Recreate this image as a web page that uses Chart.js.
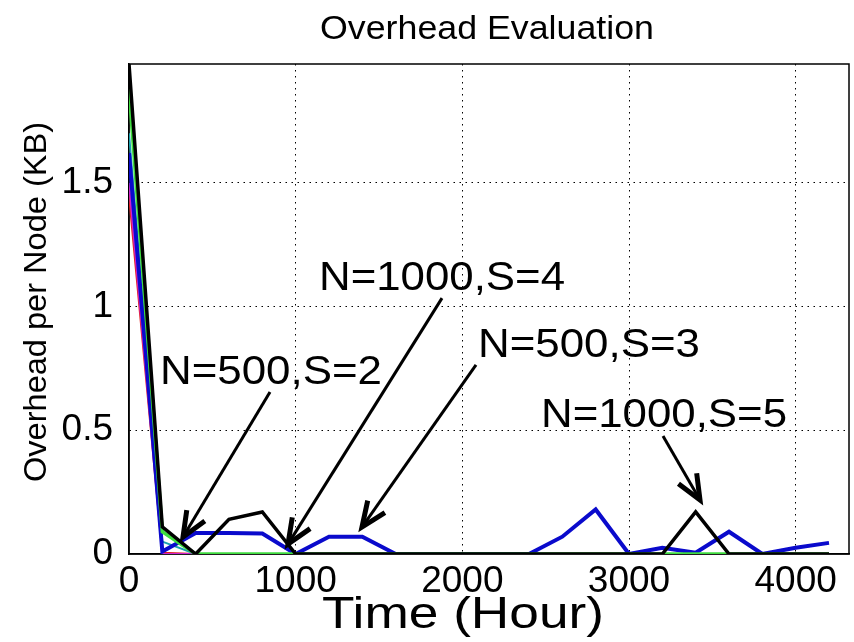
<!DOCTYPE html>
<html>
<head>
<meta charset="utf-8">
<title>Overhead Evaluation</title>
<script src="https://cdn.jsdelivr.net/npm/chart.js@4.4.1/dist/chart.umd.min.js"></script>
<style>
    html, body { margin: 0; padding: 0; background: #ffffff; }
    #chartBox { width: 854px; height: 642px; position: relative; }
</style>
</head>
<body>
<div id="chartBox"><canvas id="overheadChart"></canvas></div>
<script>
// time axis (hours), one sample every 200 h
const hours = [0, 200, 400, 600, 800, 1000, 1200, 1400, 1600, 1800, 2000, 2200,
               2400, 2600, 2800, 3000, 3200, 3400, 3600, 3800, 4000, 4200];

// overhead per node (KB)
const blackSeries   = [1.98, 0.11, 0, 0.14, 0.17, 0, 0, 0, 0, 0, 0, 0,
                       0, 0, 0, 0, 0, 0.17, 0, 0, 0, 0];
const greenSeries   = [1.88, 0.09, 0, 0, 0, 0, 0, 0, 0, 0, 0, 0,
                       0, 0, 0, 0, 0, 0, 0, 0, 0, 0];
const blueSeries    = [1.62, 0.01, 0.085, 0.085, 0.083, 0, 0.07, 0.07, 0, 0, 0, 0,
                       0, 0.07, 0.18, 0, 0.025, 0.005, 0.09, 0, 0.025, 0.045];
const cyanSeries    = [1.70, 0.05, 0, 0, 0, 0, 0, 0, 0, 0, 0, 0,
                       0, 0, 0, 0, 0, 0, 0, 0, 0, 0];
const magentaSeries = [1.50, 0, 0, 0, 0, 0, 0, 0, 0, 0, 0, 0,
                       0, 0, 0, 0, 0, 0, 0, 0, 0, 0];
const redSeries     = [1.45, 0.005, 0, 0, 0, 0, 0, 0, 0, 0, 0, 0,
                       0, 0, 0, 0, 0, 0, 0, 0, 0, 0];

const xTicks = [0, 1000, 2000, 3000, 4000];
const yTicks = [0, 0.5, 1, 1.5];

// arrow annotations: label, text anchor (data units), arrow start -> tip (data units)
const noteLabels = ['N=500,S=2', 'N=1000,S=4', 'N=500,S=3', 'N=1000,S=5'];
const noteText   = [[186, 0.687], [1140, 1.067], [2094, 0.796], [2472, 0.513]];
const noteFrom   = [[846, 0.655], [1878, 1.034], [2082, 0.764], [3204, 0.477]];
const noteTo     = [[324, 0.069], [954, 0.040], [1398, 0.109], [3426, 0.218]];
const noteWidth  = [222, 246, 222, 246];

const FONT = '"Liberation Sans", Arial, Helvetica, sans-serif';

function toPoints(values) {
    return values.map((v, i) => ({ x: hours[i], y: v }));
}

// draws text fitted to a measured width (the figure's text is a little wide)
function drawStretchedText(ctx, text, x, y, width, size, align, vertical) {
    ctx.save();
    ctx.font = size + 'px ' + FONT;
    const w = ctx.measureText(text).width;
    ctx.translate(x, y);
    if (vertical) ctx.rotate(-Math.PI / 2);
    ctx.scale(width / w, 1);
    ctx.textAlign = align;
    ctx.textBaseline = 'alphabetic';
    ctx.fillStyle = '#000';
    ctx.fillText(text, 0, 0);
    ctx.restore();
}

function drawArrow(ctx, x1, y1, x2, y2) {
    const ang = Math.atan2(y2 - y1, x2 - x1);
    const head = 27;
    const spread = 0.40;
    ctx.save();
    ctx.strokeStyle = '#000';
    ctx.lineWidth = 3;
    ctx.beginPath();
    ctx.moveTo(x1, y1);
    ctx.lineTo(x2, y2);
    ctx.stroke();
    ctx.lineWidth = 5;
    ctx.lineJoin = 'miter';
    ctx.beginPath();
    ctx.moveTo(x2 - head * Math.cos(ang - spread), y2 - head * Math.sin(ang - spread));
    ctx.lineTo(x2, y2);
    ctx.lineTo(x2 - head * Math.cos(ang + spread), y2 - head * Math.sin(ang + spread));
    ctx.stroke();
    ctx.restore();
}

const figurePlugin = {
    id: 'figureDecor',
    beforeDatasetsDraw(chart) {
        // full box round the axes, under the lines
        const ctx = chart.ctx;
        const area = chart.chartArea;
        ctx.save();
        ctx.strokeStyle = '#000';
        ctx.lineWidth = 1.5;
        ctx.strokeRect(area.left, area.top, area.right - area.left, area.bottom - area.top);
        ctx.restore();
    },
    afterDatasetsDraw(chart) {
        const ctx = chart.ctx;
        const area = chart.chartArea;
        const xs = chart.scales.x;
        const ys = chart.scales.y;

        noteLabels.forEach((label, i) => {
            drawArrow(ctx,
                xs.getPixelForValue(noteFrom[i][0]), ys.getPixelForValue(noteFrom[i][1]),
                xs.getPixelForValue(noteTo[i][0]), ys.getPixelForValue(noteTo[i][1]));
            drawStretchedText(ctx, label,
                xs.getPixelForValue(noteText[i][0]), ys.getPixelForValue(noteText[i][1]),
                noteWidth[i], 40, 'left', false);
        });

        // title and axis titles
        drawStretchedText(ctx, 'Overhead Evaluation', (area.left + area.right) / 2 - 2, area.top - 25, 334, 34, 'center', false);
        drawStretchedText(ctx, 'Time (Hour)', 463, area.bottom + 74, 282, 44, 'center', false);
        drawStretchedText(ctx, 'Overhead per Node (KB)', 46, 302, 360, 31, 'center', true);
    }
};

function gridColor(c) {
    return c.tick && c.tick.value === 0 ? 'rgba(0,0,0,0)' : '#000';
}

function createOverheadChart() {
    const ctx = document.getElementById('overheadChart').getContext('2d');
    new Chart(ctx, {
        type: 'line',
        data: {
            datasets: [
                { label: 'black', data: toPoints(blackSeries), borderColor: '#000000', borderWidth: 3.5 },
                { label: 'green', data: toPoints(greenSeries), borderColor: '#3fdc3f', borderWidth: 3.5 },
                { label: 'blue', data: toPoints(blueSeries), borderColor: '#0a0acc', borderWidth: 4 },
                { label: 'cyan', data: toPoints(cyanSeries), borderColor: '#1aa0b0', borderWidth: 2 },
                { label: 'magenta', data: toPoints(magentaSeries), borderColor: '#d020d0', borderWidth: 2 },
                { label: 'red', data: toPoints(redSeries), borderColor: '#e02020', borderWidth: 2 }
            ]
        },
        options: {
            responsive: true,
            maintainAspectRatio: false,
            animation: false,
            elements: {
                point: { radius: 0 },
                line: { tension: 0, fill: false, borderJoinStyle: 'miter' }
            },
            layout: { padding: { left: 0, right: 5, top: 64, bottom: 0 } },
            plugins: {
                legend: { display: false },
                tooltip: { enabled: false },
                title: { display: false }
            },
            scales: {
                x: {
                    type: 'linear',
                    min: 0,
                    max: 4320,
                    afterBuildTicks: scale => { scale.ticks = xTicks.map(v => ({ value: v })); },
                    afterFit: scale => { scale.height = 88; },
                    ticks: {
                        color: '#000',
                        padding: 6,
                        font: { family: FONT, size: 37 },
                        maxRotation: 0,
                        callback: v => String(v)
                    },
                    grid: { color: gridColor, lineWidth: 1, drawTicks: false },
                    border: { display: true, color: '#000', width: 1.5, dash: [1.5, 4.5] }
                },
                y: {
                    type: 'linear',
                    min: 0,
                    max: 1.98,
                    afterBuildTicks: scale => { scale.ticks = yTicks.map(v => ({ value: v })); },
                    afterFit: scale => { scale.width = 129; },
                    ticks: {
                        color: '#000',
                        padding: 16,
                        font: { family: FONT, size: 37 },
                        callback: v => String(v)
                    },
                    grid: { color: gridColor, lineWidth: 1, drawTicks: false },
                    border: { display: true, color: '#000', width: 1.5, dash: [1.5, 4.5] }
                }
            }
        },
        plugins: [figurePlugin]
    });
}

document.addEventListener('DOMContentLoaded', function() {
    createOverheadChart();
});
</script>
</body>
</html>
